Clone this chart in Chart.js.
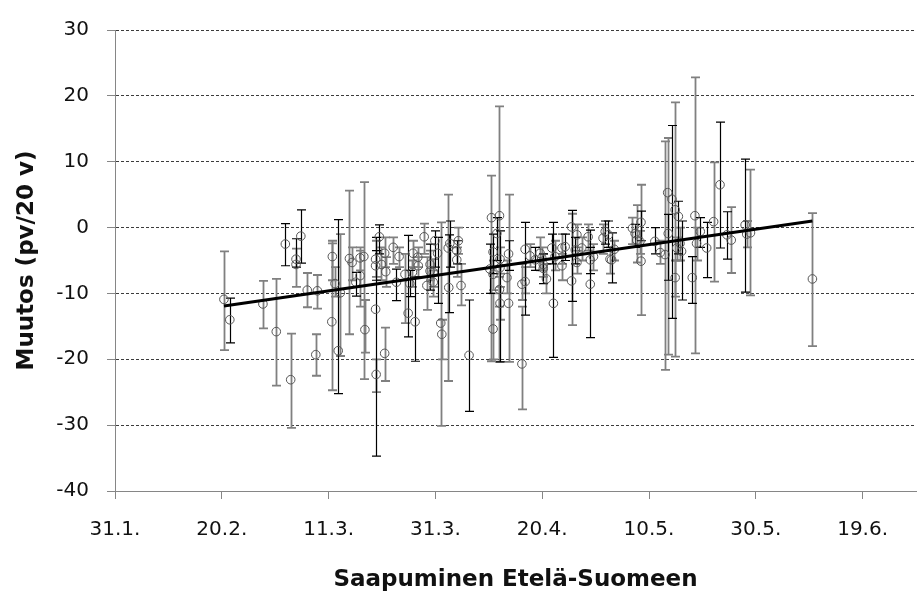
<!DOCTYPE html>
<html>
<head>
<meta charset="utf-8">
<script src="https://cdn.jsdelivr.net/npm/chart.js@4.4.1/dist/chart.umd.min.js"></script>
<style>
  html, body { margin: 0; padding: 0; background: #fff; }
  #wrap { width: 923px; height: 597px; }
</style>
</head>
<body>
<div id="wrap"><canvas id="chart"></canvas></div>
<script>
// arrival day (day of year, Excel 1900 style) and change in days / 20 years
const arrivalDays = [
  51.4, 52.5, 58.7, 61.2, 62.9, 63.9, 64.9, 64.9, 65.8, 67.0,
  68.6, 68.9, 71.6, 71.7, 72.2, 72.8, 73.2, 74.9, 75.4, 76.1,
  76.9, 76.9, 77.6, 77.8, 79.8, 79.8, 79.8, 79.9, 80.5, 80.9,
  81.5, 81.7, 81.5, 83.1, 83.7, 84.2, 85.3, 85.9, 86.2, 86.7,
  86.8, 87.2, 87.7, 87.8, 88.9, 89.4, 90.0, 90.0, 90.6, 90.6,
  90.9, 91.4, 92.0, 92.2, 93.4, 93.7, 93.5, 95.0, 95.0, 95.3,
  95.8, 97.3, 101.2, 101.5, 101.8, 101.8, 101.8, 102.5, 103.0, 103.1,
  103.0, 103.1, 103.1, 104.7, 104.4, 104.7, 107.2, 107.2, 107.8, 107.8,
  108.7, 109.7, 110.6, 111.2, 111.2, 111.8, 110.9, 112.8, 113.1, 113.4,
  114.7, 114.7, 115.3, 116.5, 116.5, 117.5, 117.2, 117.5, 118.4, 119.6,
  120.0, 120.0, 120.6, 122.4, 122.8, 123.7, 123.4, 124.5, 124.0, 127.9,
  128.4, 128.7, 129.5, 129.3, 129.5, 132.1, 133.1, 134.0, 134.5, 134.6,
  135.3, 135.9, 135.9, 136.2, 136.5, 136.8, 137.1, 139.1, 139.6, 139.9,
  140.6, 141.8, 143.1, 144.3, 145.6, 146.4, 149.0, 149.3, 150.0, 161.6
];
const changeValues = [
  -10.9, -14.0, -11.6, -15.8, -2.5, -23.1, -4.8, -5.6, -1.3, -9.5,
  -19.3, -9.6, -14.3, -4.4, -8.5, -18.7, -9.9, -4.7, -5.3, -8.3,
  -4.6, -7.3, -4.4, -15.5, -4.8, -5.8, -12.4, -22.3, -1.4, -5.6,
  -3.9, -6.7, -19.1, -3.0, -8.3, -4.4, -7.1, -13.0, -8.5, -6.8,
  -3.9, -14.3, -4.5, -5.8, -1.4, -8.8, -5.6, -6.6, -6.8, -8.3,
  -2.0, -3.9, -14.5, -16.2, -3.1, -2.4, -9.1, -4.9, -3.5, -2.0,
  -8.8, -19.4, -6.3, 1.5, -3.7, -7.1, -15.4, -0.9, 1.8, -4.8,
  -9.4, -6.1, -11.5, -4.0, -7.6, -11.5, -20.7, -8.6, -3.3, -8.2,
  -4.3, -4.9, -3.9, -5.6, -6.2, -7.8, -4.6, -3.1, -11.5, -4.4,
  -3.1, -5.8, -2.9, 0.1, -8.1, -1.1, -3.4, -5.3, -3.1, -1.4,
  -4.9, -8.6, -4.4, -1.6, -0.6, -4.8, -1.1, -3.3, -4.9, -0.1,
  -0.9, -1.9, 0.8, -2.1, -5.1, -2.1, -3.8, -4.1, 5.3, -0.9,
  4.3, 2.7, -7.6, -3.1, 1.7, -2.4, -3.6, -7.6, 1.8, -2.4,
  -0.6, -3.1, 0.9, 6.5, -1.1, -1.9, 0.4, -1.0, -0.8, -7.8
];
const errLow = [
  -18.6, -17.5, -15.3, -24.0, -5.8, -30.4, -6.0, -9.0, -5.4, -12.1,
  -22.5, -12.3, -24.7, -8.0, -10.5, -25.2, -19.5, -16.2, -8.0, -10.4,
  -6.5, -12.0, -23.0, -19.0, -7.5, -8.0, -34.7, -25.0, -4.0, -8.0,
  -6.0, -9.0, -23.3, -5.5, -11.1, -6.0, -14.5, -16.6, -10.5, -9.0,
  -6.0, -20.3, -6.0, -7.5, -4.0, -12.5, -8.0, -9.5, -9.0, -10.5,
  -6.0, -11.5, -30.1, -20.0, -23.3, -6.0, -12.9, -7.5, -5.5, -4.0,
  -11.8, -27.9, -10.0, -20.3, -7.0, -9.5, -20.0, -5.0, -20.4, -7.0,
  -12.0, -20.4, -14.0, -6.5, -10.0, -20.4, -27.6, -11.0, -13.3, -10.0,
  -6.0, -6.5, -6.5, -7.5, -8.5, -10.0, -6.5, -5.5, -19.7, -6.5,
  -5.5, -8.0, -5.0, -11.2, -14.8, -3.0, -5.5, -7.0, -5.0, -3.5,
  -7.0, -16.7, -6.5, -4.0, -2.5, -7.0, -3.0, -5.0, -8.4, -2.5,
  -3.0, -5.3, -2.0, -4.0, -13.3, -4.0, -5.5, -21.6, -19.3, -8.0,
  -13.8, -19.6, -10.5, -5.0, -4.0, -5.0, -11.0, -11.5, -19.1, -5.0,
  -3.0, -7.6, -8.2, -3.1, -4.8, -6.9, -9.8, -3.0, -10.3, -18.0
];
const errHigh = [
  -3.6, -10.7, -8.1, -7.8, 0.6, -16.1, -1.7, -3.2, 2.7, -6.9,
  -16.2, -7.2, -2.4, -2.0, -6.0, 1.2, -1.0, 5.6, -3.0, -6.8,
  -3.0, -3.5, 6.9, -11.0, -2.0, -3.5, -1.5, -20.0, 0.4, -3.0,
  -1.5, -4.5, -15.2, -1.5, -6.3, -3.0, -4.0, -1.2, -6.5, -5.0,
  -2.0, -7.5, -3.0, -4.5, 0.6, -4.5, -3.5, -2.5, -4.8, -6.5,
  -0.5, -1.5, 0.8, -14.0, 5.0, 1.0, -1.1, -3.0, -2.0, 0.0,
  -5.5, -11.0, -2.5, 7.9, -1.0, -5.0, -10.0, 1.5, 18.4, -3.0,
  -7.5, -0.5, -9.0, -2.0, -5.0, 5.0, -12.0, -5.5, 0.8, -6.0,
  -2.5, -3.0, -1.5, -4.0, -4.0, -5.5, -3.0, -1.0, 0.8, -2.0,
  -1.0, -4.0, -1.0, 2.6, 2.1, 0.5, -1.5, -3.5, -1.5, 0.5,
  -3.0, -0.4, -2.5, 0.5, 1.0, -3.0, 1.0, -2.0, -0.8, 1.5,
  0.5, 3.4, 2.5, -0.5, 6.5, 0.0, -2.0, 13.1, 13.6, 2.0,
  15.5, 19.0, -5.0, -1.5, 4.0, 0.0, 1.0, -4.4, 22.8, 0.0,
  1.5, 0.8, 9.9, 16.0, 2.4, 3.1, 10.4, 1.0, 8.8, 2.2
];
// 1 = black error bar, 0 = grey
const darkBar = [
  0, 1, 0, 0, 1, 0, 1, 0, 1, 0,
  0, 0, 0, 0, 0, 1, 0, 0, 0, 1,
  0, 0, 0, 0, 0, 1, 1, 0, 1, 0,
  0, 0, 0, 0, 1, 0, 0, 1, 1, 0,
  0, 1, 0, 0, 0, 0, 0, 1, 0, 0,
  1, 1, 0, 0, 0, 1, 1, 0, 1, 0,
  0, 1, 1, 0, 1, 0, 0, 1, 0, 0,
  0, 1, 0, 1, 0, 0, 0, 0, 1, 0,
  0, 1, 0, 0, 1, 0, 0, 1, 1, 0,
  0, 0, 1, 1, 0, 0, 1, 0, 0, 0,
  1, 1, 0, 0, 1, 0, 1, 0, 1, 0,
  1, 0, 1, 0, 0, 1, 0, 0, 0, 1,
  1, 0, 0, 0, 1, 0, 1, 1, 0, 0,
  1, 1, 0, 1, 1, 0, 1, 0, 0, 0
];
const trendDays = [51.4, 161.6];
const trendValues = [-11.9, 1.0];

const tickDays = [31, 51, 71, 91, 111, 131, 151, 171];
const tickLabels = ['31.1.', '20.2.', '11.3.', '31.3.', '20.4.', '10.5.', '30.5.', '19.6.'];

const FONT = "'DejaVu Sans', sans-serif";
const AXIS_GREY = '#868686';

// vertical error bars with caps, drawn under the markers
const errorBars = {
  id: 'errorBars',
  beforeDatasetsDraw(chart) {
    const { ctx, scales: { x, y } } = chart;
    ctx.save();
    [0, 1].forEach(pass => {
      arrivalDays.forEach((d, i) => {
        if (darkBar[i] !== pass) return;
        const px = Math.round(x.getPixelForValue(d)) + 0.5;
        const top = y.getPixelForValue(errHigh[i]);
        const bot = y.getPixelForValue(errLow[i]);
        ctx.strokeStyle = pass ? '#000000' : '#808080';
        ctx.lineWidth = pass ? 1.2 : 1.8;
        ctx.beginPath();
        ctx.moveTo(px, top);
        ctx.lineTo(px, bot);
        ctx.moveTo(px - 4.5, top);
        ctx.lineTo(px + 4.5, top);
        ctx.moveTo(px - 4.5, bot);
        ctx.lineTo(px + 4.5, bot);
        ctx.stroke();
      });
    });
    ctx.restore();
  }
};

new Chart(document.getElementById('chart'), {
  type: 'scatter',
  data: {
    datasets: [
      {
        label: 'Trendi',
        data: trendDays.map((d, i) => ({ x: d, y: trendValues[i] })),
        showLine: true,
        borderColor: '#000000',
        borderWidth: 3,
        pointRadius: 0
      },
      {
        label: 'Muutos',
        data: arrivalDays.map((d, i) => ({ x: d, y: changeValues[i] })),
        pointStyle: 'circle',
        pointRadius: 4.3,
        pointBorderWidth: 1,
        borderColor: '#555555',
        backgroundColor: 'rgba(0,0,0,0)'
      }
    ]
  },
  options: {
    responsive: true,
    maintainAspectRatio: false,
    animation: false,
    layout: { padding: { top: 18, right: 7, left: 0, bottom: 0 } },
    plugins: {
      legend: { display: false },
      tooltip: { enabled: false }
    },
    scales: {
      x: {
        type: 'linear',
        min: 31,
        max: 181,
        afterBuildTicks: s => { s.ticks = tickDays.map(v => ({ value: v })); },
        afterFit: s => { s.height = 106; },
        ticks: {
          autoSkip: false,
          maxRotation: 0,
          padding: 19,
          color: '#111111',
          font: { family: FONT, size: 20 },
          callback: v => tickLabels[tickDays.indexOf(v)]
        },
        grid: { drawOnChartArea: false, tickLength: 8, tickColor: AXIS_GREY },
        border: { color: AXIS_GREY, width: 1 },
        title: {
          display: true,
          text: 'Saapuminen Etelä-Suomeen',
          color: '#111111',
          font: { family: FONT, size: 23, weight: 'bold' },
          padding: { top: 0, bottom: 3 }
        }
      },
      y: {
        min: -40,
        max: 30,
        afterFit: s => { s.width = 115; },
        ticks: {
          stepSize: 10,
          padding: 18,
          color: '#111111',
          font: { family: FONT, size: 20 }
        },
        grid: {
          color: c => (c.tick && c.tick.value === -40) ? 'rgba(0,0,0,0)' : '#3c3c3c',
          lineWidth: 1,
          tickLength: 8,
          tickColor: AXIS_GREY
        },
        border: { color: AXIS_GREY, width: 1, dash: [3, 2] },
        title: {
          display: true,
          text: 'Muutos (pv/20 v)',
          color: '#111111',
          font: { family: FONT, size: 23, weight: 'bold' },
          padding: { top: 13, bottom: 0 }
        }
      }
    }
  },
  plugins: [errorBars]
});
</script>
</body>
</html>
